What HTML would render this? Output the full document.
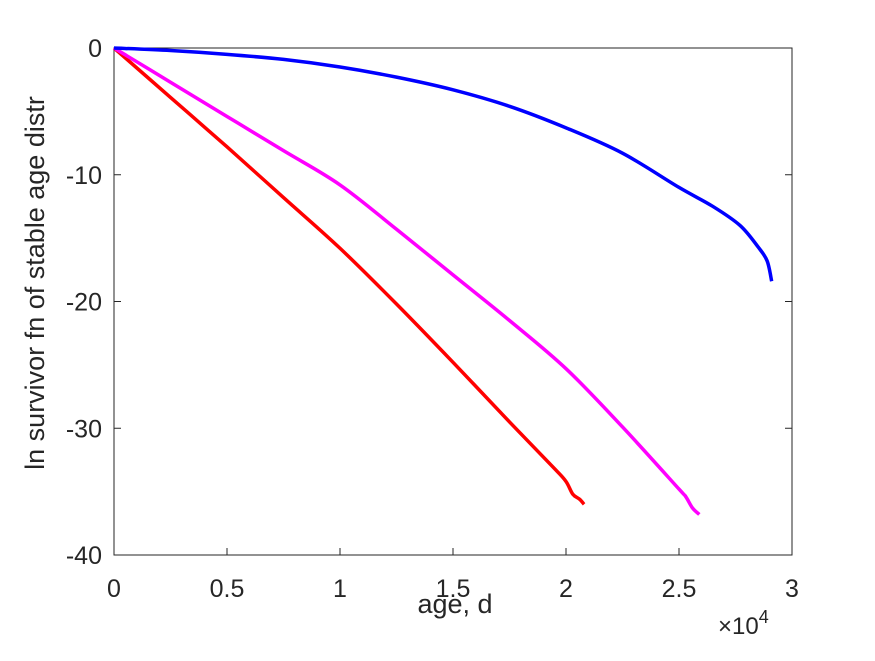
<!DOCTYPE html>
<html><head><meta charset="utf-8"><style>
body{margin:0;background:#fff}
svg text{font-family:"Liberation Sans",sans-serif;fill:#262626}
</style></head><body>
<svg width="875" height="656" xmlns="http://www.w3.org/2000/svg">
<g id="plot"></g>
</svg>
<script>
const xTicks=[0,0.5,1,1.5,2,2.5,3];
const xTickLabels=["0","0.5","1","1.5","2","2.5","3"];
const yTicks=[0,-10,-20,-30,-40];
const yTickLabels=["0","-10","-20","-30","-40"];
const redX=[0,0.25,0.5,0.75,1,1.25,1.5,1.75,1.95,2.0,2.03,2.06,2.08];
const redY=[0,-3.9,-7.8,-11.8,-15.8,-20.2,-24.8,-29.5,-33.2,-34.2,-35.2,-35.6,-36];
const magX=[0,0.25,0.5,0.75,1,1.25,1.5,1.75,2,2.25,2.5,2.53,2.56,2.59];
const magY=[0,-2.7,-5.4,-8.1,-10.8,-14.3,-17.9,-21.5,-25.3,-29.9,-34.8,-35.4,-36.3,-36.8];
const bluX=[0,0.25,0.5,0.75,1,1.25,1.5,1.75,2,2.25,2.5,2.65,2.77,2.85,2.89,2.91];
const bluY=[0,-0.2,-0.5,-0.9,-1.5,-2.3,-3.3,-4.6,-6.3,-8.3,-11,-12.5,-14,-15.7,-16.8,-18.4];
const L=114,R=792,T=48,B=555;
const xs=v=>L+(v-0)/3*(R-L);
const ys=v=>T+(0-v)/40*(B-T);
const NS="http://www.w3.org/2000/svg";
const g=document.getElementById('plot');
function el(t,a){const e=document.createElementNS(NS,t);for(const k in a)e.setAttribute(k,a[k]);g.appendChild(e);return e;}
const frame=el('rect',{x:L,y:T,width:R-L,height:B-T,fill:'none',stroke:'#262626','stroke-width':1});


xTicks.forEach((v,i)=>{
 const t=el('line',{x1:xs(v),x2:xs(v),y1:B,y2:B-7,stroke:'#262626'});
 
 
 const l=el('text',{x:xs(v),y:B+42,'text-anchor':'middle','font-size':25});
 l.textContent=xTickLabels[i];
 
 
});
yTicks.forEach((v,i)=>{
 const t=el('line',{x1:L,x2:L+7,y1:ys(v),y2:ys(v),stroke:'#262626'});
 
 
 const t2=el('line',{x1:R,x2:R-7,y1:ys(v),y2:ys(v),stroke:'#262626'});
 
 
 const l=el('text',{x:L-12,y:ys(v)+9,'text-anchor':'end','font-size':25});
 l.textContent=yTickLabels[i];
 
 
});
function series(X,Y,c,n){
 const P=X.map((x,i)=>[xs(x),ys(Y[i])]);
 let d='M'+P[0][0]+','+P[0][1];
 for(let i=0;i<P.length-1;i++){
  const p0=P[Math.max(i-1,0)],p1=P[i],p2=P[i+1],p3=P[Math.min(i+2,P.length-1)];
  const c1=[p1[0]+(p2[0]-p0[0])/6,p1[1]+(p2[1]-p0[1])/6];
  const c2=[p2[0]-(p3[0]-p1[0])/6,p2[1]-(p3[1]-p1[1])/6];
  d+=' C'+c1+' '+c2+' '+p2;
 }
 const p=el('path',{d:d,fill:'none',stroke:c,'stroke-width':3.5,'stroke-linejoin':'round'});
 
 
}
series(redX,redY,'#ff0000','red-series');
series(magX,magY,'#ff00ff','magenta-series');
series(bluX,bluY,'#0000ff','blue-series');
const xt=el('text',{x:455,y:613,'text-anchor':'middle','font-size':27});
xt.textContent='age, d';


const ex=el('text',{x:718,y:634,'font-size':24});
ex.innerHTML='×10<tspan dy="-11" font-size="18">4</tspan>';


const yt=el('text',{x:0,y:0,'text-anchor':'middle','font-size':27,transform:'translate(44,283) rotate(-90)'});
yt.textContent='ln survivor fn of stable age distr';


</script>
</body></html>
